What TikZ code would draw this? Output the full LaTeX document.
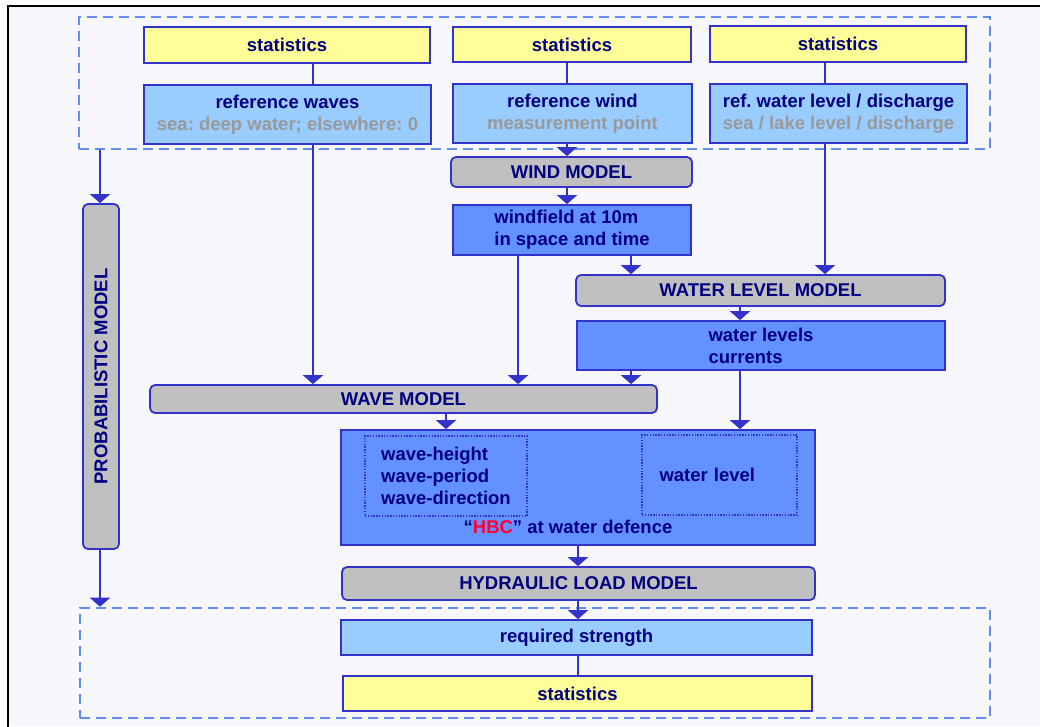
\documentclass[tikz,border=0pt]{standalone}
\usepackage{fontspec}
\setmainfont{Liberation Sans}
\usetikzlibrary{arrows.meta, positioning}
\definecolor{boxline}{HTML}{3333CC}
\definecolor{navytext}{HTML}{000080}
\definecolor{subgrey}{HTML}{999999}
\definecolor{statyellow}{HTML}{FFFF99}
\definecolor{reflight}{HTML}{99CCFF}
\definecolor{resultblue}{HTML}{6391FF}
\definecolor{modelgrey}{HTML}{C0C0C0}
\definecolor{groupdash}{HTML}{5F8CF5}
\definecolor{hbcred}{HTML}{FF0033}
\definecolor{pagebg}{HTML}{F7F7FB}
\frenchspacing

\begin{document}
\begin{tikzpicture}[x=1pt, y=-1pt,
    font=\bfseries\fontsize{18.5}{22}\selectfont,
    box/.style={draw=boxline, line width=1.8pt, text=navytext, inner sep=0pt, align=center},
    stat/.style={box, fill=statyellow},
    ref/.style={box, fill=reflight},
    result/.style={box, fill=resultblue},
    model/.style={box, fill=modelgrey, rounded corners=5pt},
    groupbox/.style={draw=groupdash, line width=2.6pt, dash pattern=on 10pt off 6pt, inner sep=0pt},
    partbox/.style={draw=boxline, line width=1.4pt, dash pattern=on 1.4pt off 1.4pt, text=navytext, inner sep=0pt, align=left},
    flow/.style={draw=boxline, line width=2.4pt, -{Triangle[width=20pt,length=9pt]}},
    link/.style={draw=boxline, line width=2.4pt}]

    % page and frame
    \useasboundingbox (0,0) rectangle (1040,726);
    \fill[white] (0,0) rectangle (1040,726);
    \fill[pagebg] (8,6) rectangle (1040,726);
    \draw[black, line width=2pt] (8,727) -- (8,6) -- (1041,6);

    % input group
    \node[groupbox, minimum width=911pt, minimum height=132pt] (inbox) at (534.5,83) {};
    \node[stat, minimum width=286pt, minimum height=36pt] (stA) at (287,45) {statistics};
    \node[stat, minimum width=238pt, minimum height=35pt] (stB) at (572,44.5) {statistics};
    \node[stat, minimum width=256pt, minimum height=36pt] (stC) at (838,44) {statistics};
    \node[ref, minimum width=287pt, minimum height=59pt] (refwaves) at (287.5,114.5)
        {reference waves\\\textcolor{subgrey}{sea: deep water; elsewhere: 0}};
    \node[ref, minimum width=239pt, minimum height=59pt] (refwind) at (572.5,113.5)
        {reference wind\\\textcolor{subgrey}{measurement point}};
    \node[ref, minimum width=257pt, minimum height=59pt] (refwater) at (838.5,113.5)
        {ref. water level / discharge\\\textcolor{subgrey}{sea / lake level / discharge}};

    % models
    \node[model, minimum width=241pt, minimum height=30pt] (windmodel) at (571.5,172) {WIND MODEL};
    \node[result, align=left, minimum width=238pt, minimum height=50pt] (windfield) at (572,230)
        {windfield at 10m\\in space and time};
    \node[model, minimum width=369pt, minimum height=31pt] (wlmodel) at (760.5,290.5) {WATER LEVEL MODEL};
    \node[result, align=left, minimum width=368pt, minimum height=49pt] (wlevels) at (761,345.5)
        {water levels\\currents};
    \node[model, minimum width=507pt, minimum height=28pt] (wavemodel) at (403.5,399) {WAVE MODEL};
    \node[result, minimum width=474pt, minimum height=115pt] (hbc) at (578,487.5) {};
    \node[partbox, minimum width=162pt, minimum height=80pt] (wavepart) at (446,476)
        {wave-height\\wave-period\\wave-direction};
    \node[partbox, text width=120pt, minimum width=155pt, minimum height=80pt] (levelpart) at (719.5,475) {water level};
    \node[text=navytext] (hbclabel) at (568,527) {“\textcolor{hbcred}{HBC}” at water defence};
    \node[model, minimum width=473pt, minimum height=33pt] (hlmodel) at (578.5,583.5) {HYDRAULIC LOAD MODEL};
    \node[model, rotate=90, minimum width=345pt, minimum height=36pt] (prob) at (101,376.5) {PROBABILISTIC MODEL};

    % output group
    \node[groupbox, minimum width=910pt, minimum height=110pt] (outbox) at (535,663) {};
    \node[ref, minimum width=471pt, minimum height=35pt] (reqstr) at (576.5,637.5) {required strength};
    \node[stat, minimum width=469pt, minimum height=35pt] (stD) at (577.5,693.5) {statistics};

    % connector columns
    \coordinate (xA) at (313,0);
    \coordinate (xB) at (567,0);
    \coordinate (xC) at (825,0);
    \coordinate (xD) at (518,0);
    \coordinate (xE) at (631,0);
    \coordinate (xF) at (740,0);
    \coordinate (xG) at (446,0);
    \coordinate (xH) at (578,0);
    \coordinate (xP) at (100,0);

    \draw[link] (stA.south -| xA) -- (refwaves.north -| xA);
    \draw[link] (stB.south -| xB) -- (refwind.north -| xB);
    \draw[link] (stC.south -| xC) -- (refwater.north -| xC);
    \draw[flow] (refwaves.south -| xA) -- (wavemodel.north -| xA);
    \draw[flow] (refwind.south -| xB) -- (windmodel.north -| xB);
    \draw[flow] (windmodel.south -| xB) -- (windfield.north -| xB);
    \draw[flow] (refwater.south -| xC) -- (wlmodel.north -| xC);
    \draw[flow] (windfield.south -| xE) -- (wlmodel.north -| xE);
    \draw[flow] (windfield.south -| xD) -- (wavemodel.north -| xD);
    \draw[flow] (wlmodel.south -| xF) -- (wlevels.north -| xF);
    \draw[flow] (wlevels.south -| xE) -- (wavemodel.north -| xE);
    \draw[flow] (wlevels.south -| xF) -- (hbc.north -| xF);
    \draw[flow] (wavemodel.south -| xG) -- (hbc.north -| xG);
    \draw[flow] (hbc.south -| xH) -- (hlmodel.north -| xH);
    \draw[flow] (hlmodel.south -| xH) -- (reqstr.north -| xH);
    \draw[link] (reqstr.south -| xH) -- (stD.north -| xH);
    \draw[flow] (inbox.south -| xP) -- (prob.east -| xP);
    \draw[flow] (prob.west -| xP) -- (outbox.north -| xP);
\end{tikzpicture}
\end{document}
